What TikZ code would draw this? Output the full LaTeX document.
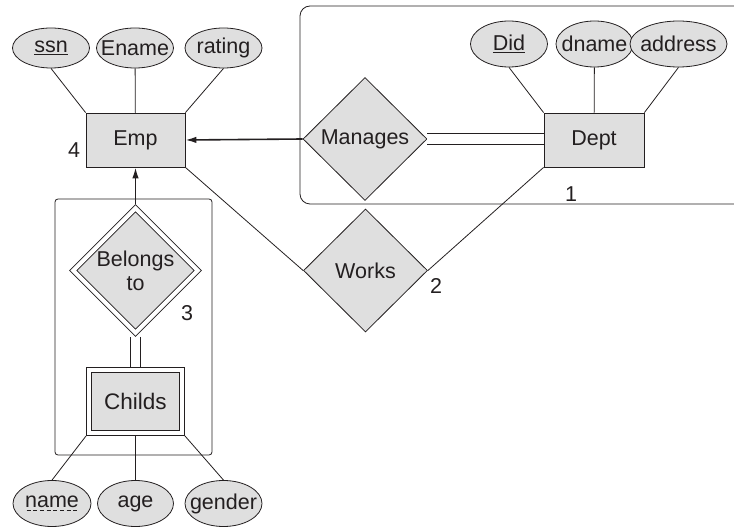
\documentclass[tikz,border=0pt]{standalone}
\usepackage{fontspec}
\setmainfont{Liberation Sans}
\usetikzlibrary{shapes.geometric,arrows.meta}
\definecolor{erfill}{HTML}{DFDFDF}
\definecolor{erline}{HTML}{231F20}
\newcommand{\tx}[1]{\makebox[0pt]{#1}}
\newsavebox{\keybox}
\newcommand{\partkey}[1]{\sbox{\keybox}{#1}\rlap{\usebox{\keybox}}%
  \raisebox{-3pt}{\hbox to \wd\keybox{\xleaders\hbox{\kern1.2pt\vrule width 4pt height .9pt\kern1.2pt}\hfill}}}

\begin{document}
\begin{tikzpicture}[x=1pt,y=-1pt,line width=.8pt,draw=erline,text=erline,
      font=\fontsize{21.5}{24}\selectfont,
      every node/.style={inner sep=0pt},
      entity/.style={rectangle,draw,fill=erfill,minimum width=99pt,minimum height=54pt},
      wentity/.style={rectangle,draw,fill=erfill,line width=1pt,double=white,double distance=4pt,
        minimum width=93pt,minimum height=63pt,outer sep=3pt},
      rel/.style={diamond,draw,fill=erfill,minimum width=124pt,minimum height=123pt},
      wrel/.style={diamond,draw,fill=erfill,double=white,double distance=4.2pt,
        minimum width=127pt,minimum height=127pt,outer sep=3pt,align=center},
      attr/.style={ellipse,draw,fill=erfill,minimum width=77pt,minimum height=40pt},
      arr/.style={-{Latex[length=11pt,width=6.5pt]},line width=1.6pt},
      dbl/.style={line width=1pt,double=white,double distance=9pt}]
  \useasboundingbox (0,0) rectangle (734,529);
  % enclosures
  \draw[rounded corners=10pt] (300,6) rectangle (780,204);
  \draw[rounded corners=3pt] (55,199) rectangle (212,455);
  % entities and relationships
  \node[entity] (emp) at (135.5,140) {Emp};
  \node[entity,minimum width=100pt] (dept) at (594,140) {Dept};
  \node[rel] (manages) at (365,139) {Manages};
  \node[rel] (works) at (365.5,270.5) {Works};
  \node[wrel] (belongs) at (135.5,270.5) {Belongs\\to};
  \node[wentity,font=\fontsize{22.5}{24}\selectfont] (childs) at (135.5,401.5) {Childs};
  % attributes
  \node[attr] (ssn) at (51,48) {\tx{\underline{ssn}}};
  \node[attr] (ename) at (135,48) {\tx{Ename}};
  \node[attr] (rating) at (223.5,48) {\tx{rating}};
  \node[attr,minimum height=46pt] (did) at (509,44) {\tx{\underline{Did}}};
  \node[attr,minimum height=46pt] (dname) at (594.5,44) {\tx{dname}};
  \node[attr,minimum height=46pt,minimum width=97pt] (address) at (678.5,44) {\tx{address}};
  \node[attr,minimum height=46pt,minimum width=78pt] (name) at (52,503.5) {\tx{\partkey{name}}};
  \node[attr,minimum height=46pt,minimum width=76pt] (age) at (135.5,503.5) {\tx{age}};
  \node[attr,minimum height=46pt] (gender) at (223.5,503.5) {\tx{gender}};
  % cardinalities
  \node (c4) at (74,150) {4};
  \node (c1) at (571,194) {1};
  \node (c2) at (436,286) {2};
  \node (c3) at (187,313) {3};
  % links
  \draw (ssn.south) -- (emp.north west);
  \draw (ename) -- (emp);
  \draw (rating.south) -- (emp.north east);
  \draw (did.south) -- (dept.north west);
  \draw (dname) -- (dept);
  \draw (address.south) -- (dept.north east);
  \draw (name.north) -- (childs.south west);
  \draw (age) -- (childs);
  \draw (gender.north) -- (childs.south east);
  \draw (emp.south east) -- (works.west);
  \draw (dept.south west) -- (works.east);
  \draw[arr] (manages.west) -- (emp.east);
  \draw[arr] (belongs.north) -- (emp.south);
  \draw[dbl,double distance=10pt] (manages.east) -- (manages.east -| dept.west);
  \draw[dbl] (belongs.south) -- (childs.north);
\end{tikzpicture}
\end{document}
